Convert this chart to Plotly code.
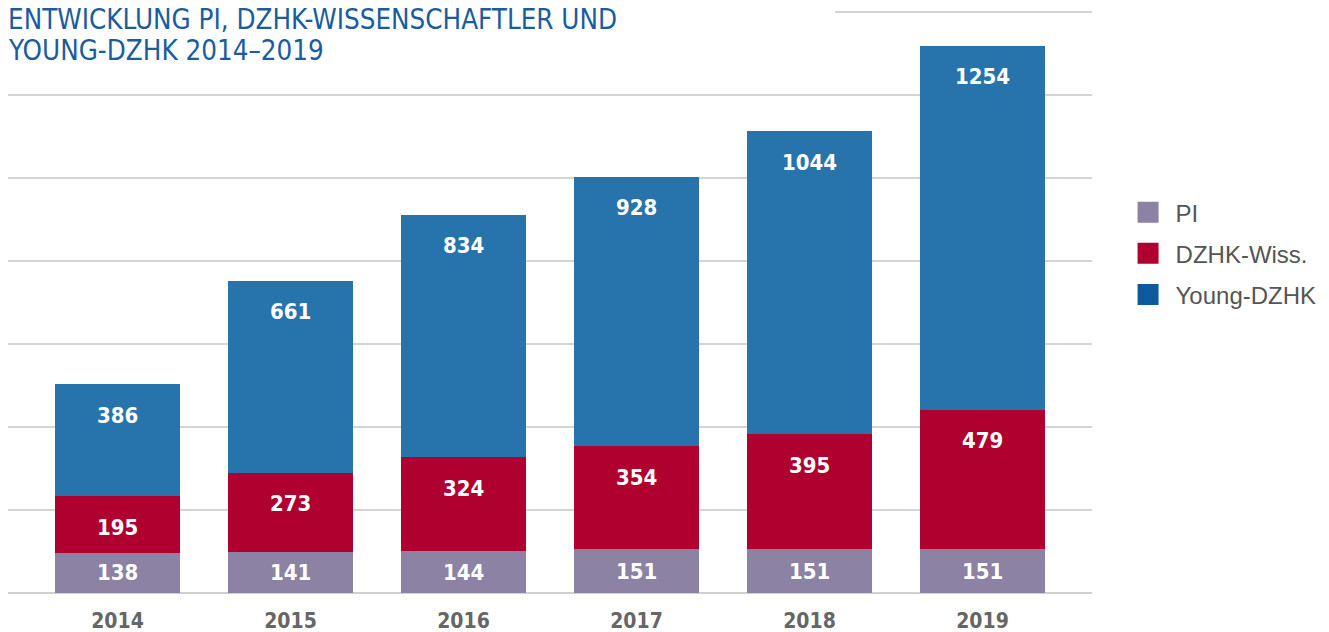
import plotly.graph_objects as go

# ---- data ----
years = ["2014", "2015", "2016", "2017", "2018", "2019"]
pi_values = [138, 141, 144, 151, 151, 151]
dzhk_values = [195, 273, 324, 354, 395, 479]
young_values = [386, 661, 834, 928, 1044, 1254]

series_names = ["PI", "DZHK-Wiss.", "Young-DZHK"]
bar_colors = ["#8b82a4", "#b0002f", "#2773ac"]
legend_colors = ["#8b82a4", "#b0002f", "#0e5a9c"]

title_lines = ["ENTWICKLUNG PI, DZHK-WISSENSCHAFTLER UND", "YOUNG-DZHK 2014\u20132019"]

NARROW = "Liberation Sans Narrow, DejaVu Sans Condensed, sans-serif"

fig = go.Figure()
all_series = [pi_values, dzhk_values, young_values]
for name, vals, col in zip(series_names, all_series, bar_colors):
    fig.add_trace(go.Bar(x=years, y=vals, name=name,
                         marker=dict(color=col, line=dict(width=0)),
                         showlegend=False))
for name, col in zip(series_names, legend_colors):
    fig.add_trace(go.Scatter(x=[None], y=[None], mode="markers", name=name,
                             legendgroup=name,
                             marker=dict(symbol="square", size=16, color=col,
                                         line=dict(color=col, width=5))))

# value labels
annotations = []
for i, yr in enumerate(years):
    p, d, yv = pi_values[i], dzhk_values[i], young_values[i]
    for yy, txt, shift in [(p / 2, p, 0), (p + d, d, -31), (p + d + yv, yv, -31)]:
        annotations.append(dict(x=i, y=yy, text=str(txt), showarrow=False,
                                yshift=shift, xref="x", yref="y",
                                font=dict(family=NARROW, size=22, color="white", weight="bold")))

# title
Y_TOP = 2010
PLOT_H = 581.5 * Y_TOP / 2000
annotations.append(dict(x=0, y=1 + 8 / PLOT_H, xref="paper", yref="paper", xanchor="left", yanchor="top",
                        text=title_lines[0], showarrow=False, xshift=-2,
                        font=dict(family=NARROW, size=27.5, color="#1a5c9e")))
annotations.append(dict(x=0, y=1 + (8 - 31) / PLOT_H, xref="paper", yref="paper", xanchor="left", yanchor="top",
                        text=title_lines[1], showarrow=False, xshift=-2,
                        font=dict(family=NARROW, size=27.5, color="#1a5c9e")))

fig.update_layout(
    barmode="stack",
    bargap=0.2775,
    width=1329, height=632,
    margin=dict(l=8, r=236, t=593 - PLOT_H, b=39),
    paper_bgcolor="white", plot_bgcolor="white",
    annotations=annotations,
    shapes=[dict(type="rect", xref="paper", yref="paper", x0=-0.01, x1=0.763, y0=0.985, y1=1.02,
                 fillcolor="white", line=dict(width=0), layer="above")],
    legend=dict(x=1.0254, y=0.69, xanchor="left", yanchor="top",
                traceorder="grouped", tracegroupgap=7, itemwidth=45,
                font=dict(family="Liberation Sans, Arial, sans-serif", size=24, color="#555555"),
                bgcolor="rgba(0,0,0,0)"),
    showlegend=True,
)
fig.update_xaxes(type="category", range=[-0.633, 5.633], showgrid=False, showline=False, zeroline=False,
                 ticks="outside", ticklen=9, tickcolor="rgba(0,0,0,0)", automargin=False,
                 tickfont=dict(family=NARROW, size=21, color="#666666", weight="bold"))
fig.update_yaxes(range=[0, Y_TOP], tick0=0, dtick=2000 / 7, showticklabels=False,
                 showgrid=True, gridcolor="#d4d4d4", gridwidth=1.5,
                 zeroline=True, zerolinecolor="#d0d0d0", zerolinewidth=1.5, showline=False)

fig.write_html("out.html", config={"displayModeBar": False},
               post_script="document.body.style.margin='0';")
